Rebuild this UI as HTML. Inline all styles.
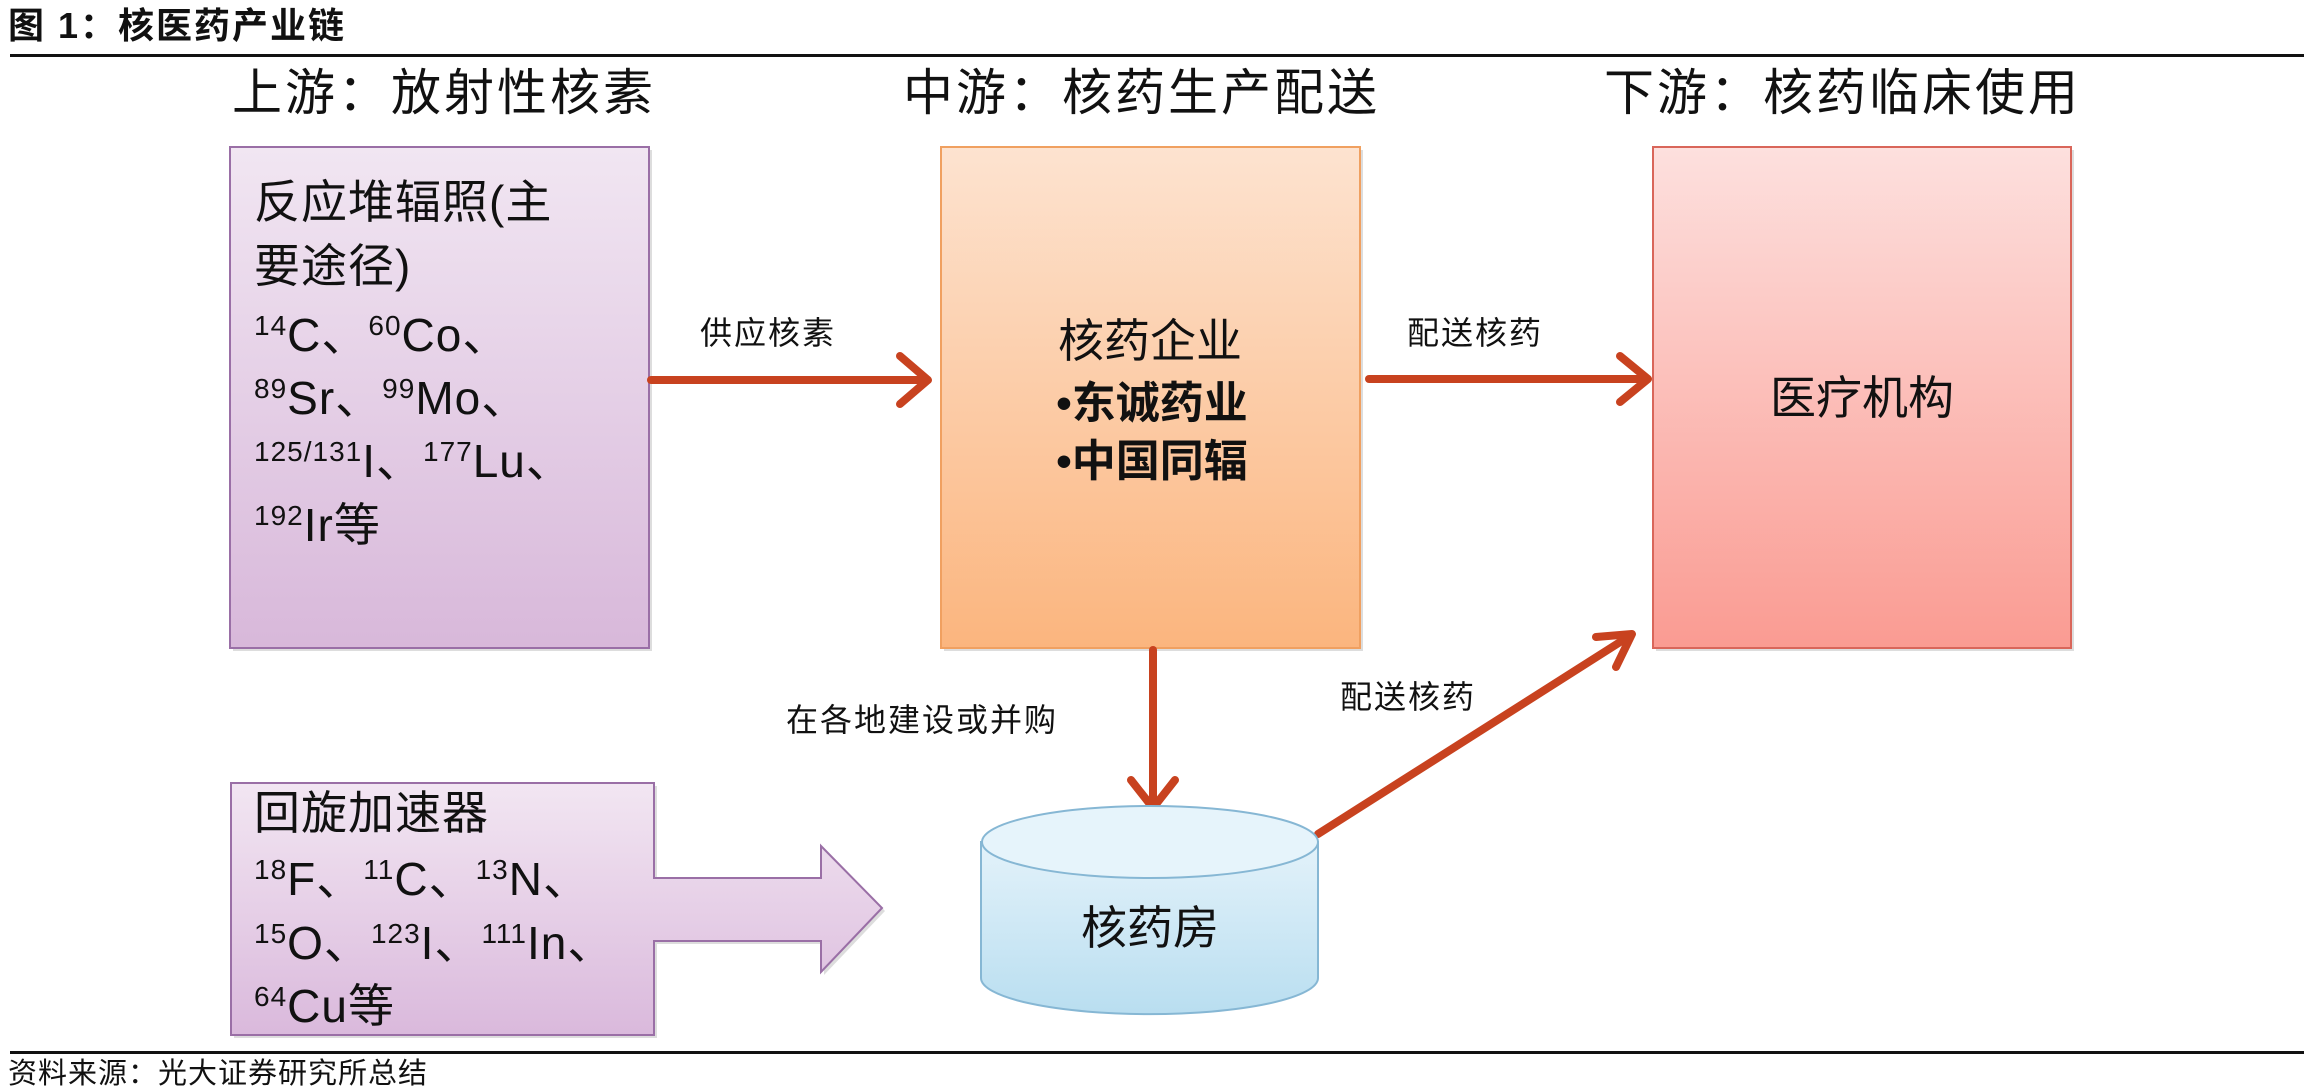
<!DOCTYPE html>
<html><head><meta charset="utf-8"><style>
html,body{margin:0;padding:0;background:#fff;}
svg{display:block;}
text{font-family:"Liberation Sans","Noto Sans CJK SC",sans-serif;fill:#111;}
</style></head><body>
<svg width="2304" height="1088" viewBox="0 0 2304 1088" xmlns="http://www.w3.org/2000/svg">
<defs>
<linearGradient id="gp" x1="0" y1="0" x2="0" y2="1"><stop offset="0" stop-color="#f1e6f2"/><stop offset="1" stop-color="#d8b8da"/></linearGradient>
<linearGradient id="go" x1="0" y1="0" x2="0" y2="1"><stop offset="0" stop-color="#fde3d0"/><stop offset="1" stop-color="#fbb57e"/></linearGradient>
<linearGradient id="gr" x1="0" y1="0" x2="0" y2="1"><stop offset="0" stop-color="#fde0de"/><stop offset="1" stop-color="#fa9b92"/></linearGradient>
<linearGradient id="gb" x1="0" y1="0" x2="0" y2="1"><stop offset="0" stop-color="#e3f2fa"/><stop offset="1" stop-color="#b9def0"/></linearGradient>
<linearGradient id="gp2" x1="0" y1="0" x2="0" y2="1"><stop offset="0" stop-color="#f2e6f2"/><stop offset="1" stop-color="#dab9dc"/></linearGradient>
</defs>
<text x="8" y="38" font-size="36" font-weight="bold" letter-spacing="2">图 1：核医药产业链</text>
<rect x="10" y="54" width="2294" height="3" fill="#111"/>
<text x="232" y="110" font-size="50" letter-spacing="3" fill="#222">上游：放射性核素</text>
<text x="903" y="110" font-size="50" letter-spacing="3" fill="#222">中游：核药生产配送</text>
<text x="1604" y="110" font-size="50" letter-spacing="3" fill="#222">下游：核药临床使用</text>
<rect x="233" y="150" width="419" height="501" fill="#bbb" opacity="0.5"/>
<rect x="230" y="147" width="419" height="501" fill="url(#gp)" stroke="#9a6fa6" stroke-width="2"/>
<rect x="944" y="150" width="419" height="501" fill="#bbb" opacity="0.5"/>
<rect x="941" y="147" width="419" height="501" fill="url(#go)" stroke="#f0a060" stroke-width="2"/>
<rect x="1656" y="150" width="418" height="501" fill="#bbb" opacity="0.5"/>
<rect x="1653" y="147" width="418" height="501" fill="url(#gr)" stroke="#d9665a" stroke-width="2"/>
<g font-size="46" letter-spacing="1">
<text x="254" y="218">反应堆辐照(主</text>
<text x="254" y="282">要途径)</text>
<text x="254" y="351"><tspan font-size="28" dy="-16">14</tspan><tspan dy="16">C、</tspan><tspan font-size="28" dy="-16">60</tspan><tspan dy="16">Co、</tspan></text>
<text x="254" y="414"><tspan font-size="28" dy="-16">89</tspan><tspan dy="16">Sr、</tspan><tspan font-size="28" dy="-16">99</tspan><tspan dy="16">Mo、</tspan></text>
<text x="254" y="477"><tspan font-size="28" dy="-16">125/131</tspan><tspan dy="16">I、</tspan><tspan font-size="28" dy="-16">177</tspan><tspan dy="16">Lu、</tspan></text>
<text x="254" y="541"><tspan font-size="28" dy="-16">192</tspan><tspan dy="16">Ir等</tspan></text>
</g>
<text x="1150" y="357" font-size="46" text-anchor="middle">核药企业</text>
<text x="1152" y="418" font-size="44" font-weight="bold" text-anchor="middle">•东诚药业</text>
<text x="1152" y="476" font-size="44" font-weight="bold" text-anchor="middle">•中国同辐</text>
<text x="1862" y="414" font-size="46" text-anchor="middle">医疗机构</text>
<g stroke="#c8421f" stroke-width="8" fill="none" stroke-linecap="round" stroke-linejoin="round">
<line x1="651" y1="380" x2="926" y2="380"/><polyline points="900,356 928,380 900,404"/>
<line x1="1369" y1="379" x2="1645" y2="379"/><polyline points="1620,356 1648,379 1620,402"/>
<line x1="1153" y1="650" x2="1153" y2="804"/><polyline points="1131,780 1153,808 1175,780"/>
<line x1="1318" y1="834" x2="1628" y2="637"/><polyline points="1596,637 1632,634 1616,667"/>
</g>
<text x="700" y="344" font-size="32" letter-spacing="2">供应核素</text>
<text x="1407" y="344" font-size="32" letter-spacing="2">配送核药</text>
<text x="786" y="731" font-size="32" letter-spacing="2">在各地建设或并购</text>
<text x="1340" y="708" font-size="32" letter-spacing="2">配送核药</text>
<path d="M981,842 L981,978 A168,36 0 0 0 1318,978 L1318,842 Z" fill="url(#gb)" stroke="#86b7d4" stroke-width="2"/>
<ellipse cx="1150" cy="842" rx="168" ry="36" fill="#e6f4fb" stroke="#86b7d4" stroke-width="2"/>
<text x="1150" y="944" font-size="46" text-anchor="middle">核药房</text>
<path d="M231,783 L654,783 L654,878 L821,878 L821,846 L882,908 L821,972 L821,941 L654,941 L654,1035 L231,1035 Z" fill="#bbb" opacity="0.5" transform="translate(3,3)"/>
<path d="M231,783 L654,783 L654,878 L821,878 L821,846 L882,908 L821,972 L821,941 L654,941 L654,1035 L231,1035 Z" fill="url(#gp2)" stroke="#9a6fa6" stroke-width="2"/>
<g font-size="46" letter-spacing="1">
<text x="254" y="829">回旋加速器</text>
<text x="254" y="895"><tspan font-size="28" dy="-16">18</tspan><tspan dy="16">F、</tspan><tspan font-size="28" dy="-16">11</tspan><tspan dy="16">C、</tspan><tspan font-size="28" dy="-16">13</tspan><tspan dy="16">N、</tspan></text>
<text x="254" y="959"><tspan font-size="28" dy="-16">15</tspan><tspan dy="16">O、</tspan><tspan font-size="28" dy="-16">123</tspan><tspan dy="16">I、</tspan><tspan font-size="28" dy="-16">111</tspan><tspan dy="16">In、</tspan></text>
<text x="254" y="1022"><tspan font-size="28" dy="-16">64</tspan><tspan dy="16">Cu等</tspan></text>
</g>
<rect x="10" y="1051" width="2294" height="3" fill="#111"/>
<text x="8" y="1083" font-size="29" letter-spacing="1">资料来源：光大证券研究所总结</text>
</svg>
</body></html>
